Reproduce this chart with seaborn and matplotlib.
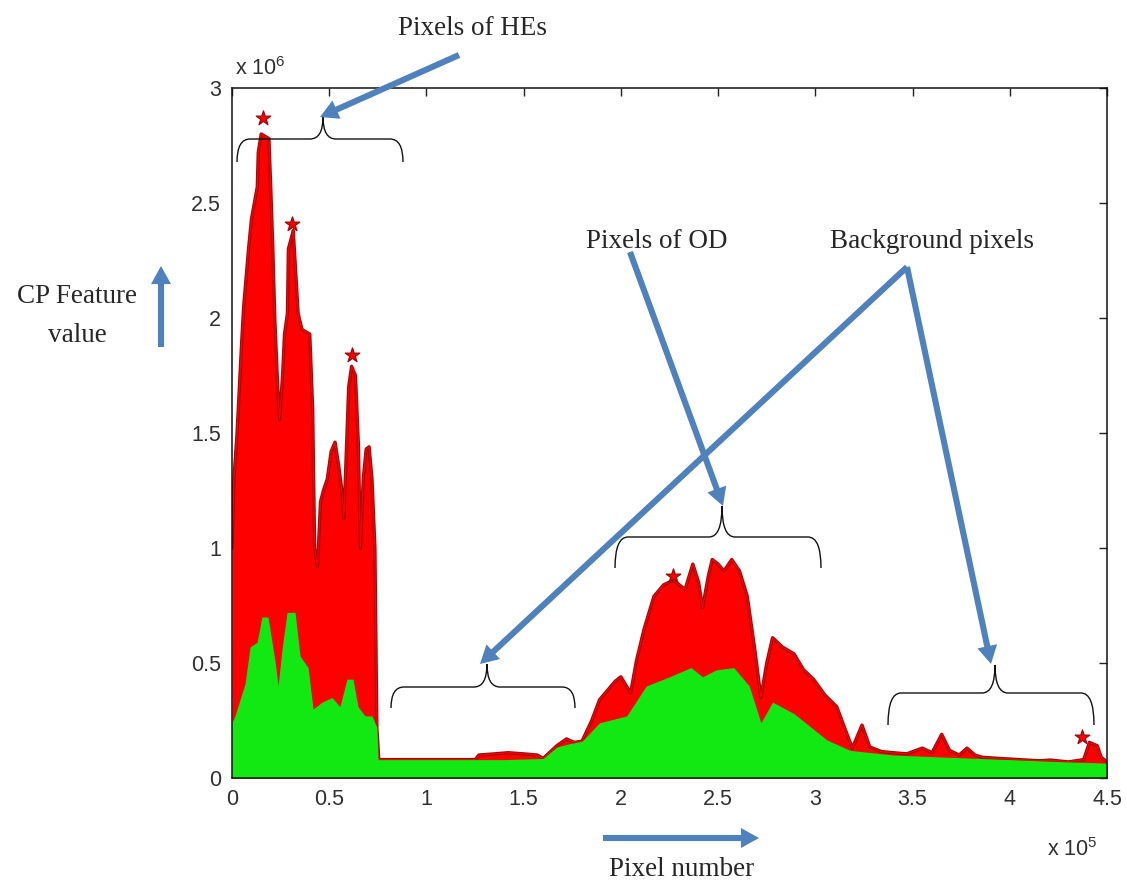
import numpy as np
import pandas as pd
import seaborn as sns
import matplotlib
matplotlib.use("Agg")
import matplotlib.pyplot as plt
from matplotlib.path import Path
from matplotlib.patches import PathPatch, FancyArrowPatch, ArrowStyle

# ---------------- data (x in units of 1e5 pixels, y in units of 1e6) ----------------
red_x = [0.0, 0.01, 0.026, 0.05, 0.06, 0.085, 0.10, 0.13, 0.135, 0.15, 0.19, 0.20, 0.21,
         0.22, 0.235, 0.245, 0.26, 0.27, 0.285, 0.29, 0.315, 0.34, 0.36, 0.40, 0.415,
         0.425, 0.44, 0.455, 0.47, 0.49, 0.51, 0.53, 0.55, 0.565, 0.575, 0.585, 0.60,
         0.615, 0.635, 0.65, 0.66, 0.675, 0.69, 0.705, 0.72, 0.735, 0.745, 0.755,
         1.0, 1.25, 1.27, 1.35, 1.42, 1.5, 1.57, 1.6, 1.67, 1.72, 1.76, 1.80, 1.85,
         1.89, 1.93, 1.97, 2.0, 2.05, 2.08, 2.12, 2.17, 2.22, 2.27, 2.33, 2.37, 2.40,
         2.42, 2.45, 2.47, 2.50, 2.53, 2.57, 2.61, 2.65, 2.69, 2.72, 2.75, 2.78, 2.83,
         2.89, 2.94, 2.99, 3.05, 3.11, 3.15, 3.19, 3.24, 3.28, 3.34, 3.40, 3.47, 3.55,
         3.60, 3.65, 3.69, 3.74, 3.78, 3.82, 3.86, 3.95, 4.05, 4.15, 4.21, 4.30, 4.38,
         4.41, 4.45, 4.47, 4.5]
red_y = [1.0, 1.3, 1.5, 1.9, 2.05, 2.3, 2.43, 2.57, 2.72, 2.80, 2.78, 2.55, 2.3,
         2.0, 1.7, 1.56, 1.75, 1.93, 2.02, 2.3, 2.38, 2.02, 1.95, 1.93, 1.6,
         1.0, 0.92, 1.2, 1.25, 1.3, 1.42, 1.46, 1.35, 1.25, 1.13, 1.35, 1.7,
         1.79, 1.75, 1.45, 1.0, 1.3, 1.43, 1.44, 1.3, 1.0, 0.22, 0.08,
         0.08, 0.08, 0.10, 0.105, 0.11, 0.105, 0.10, 0.085, 0.14, 0.17, 0.155, 0.16, 0.25,
         0.34, 0.38, 0.42, 0.44, 0.37, 0.51, 0.65, 0.79, 0.84, 0.86, 0.82, 0.93, 0.85,
         0.74, 0.88, 0.95, 0.93, 0.90, 0.95, 0.90, 0.79, 0.55, 0.35, 0.50, 0.61, 0.57,
         0.54, 0.47, 0.43, 0.36, 0.31, 0.22, 0.13, 0.23, 0.135, 0.115, 0.11, 0.105, 0.13,
         0.11, 0.19, 0.12, 0.10, 0.13, 0.10, 0.09, 0.085, 0.08, 0.075, 0.078, 0.07, 0.08,
         0.155, 0.14, 0.09, 0.07]

green_x = [0.0, 0.015, 0.067, 0.093, 0.129, 0.154, 0.185, 0.221, 0.237, 0.257, 0.283,
           0.324, 0.350, 0.391, 0.417, 0.463, 0.514, 0.555, 0.591, 0.622, 0.648, 0.684,
           0.720, 0.745, 0.751, 1.0, 1.2, 1.4, 1.6, 1.67, 1.74, 1.80, 1.89, 2.03, 2.13,
           2.25, 2.36, 2.42, 2.49, 2.58, 2.66, 2.72, 2.78, 2.89, 3.06, 3.18, 3.40, 3.69,
           4.0, 4.3, 4.5]
green_y = [0.24, 0.27, 0.41, 0.57, 0.59, 0.70, 0.70, 0.51, 0.40, 0.56, 0.72,
           0.72, 0.53, 0.48, 0.30, 0.33, 0.35, 0.31, 0.43, 0.43, 0.31, 0.27,
           0.27, 0.22, 0.08, 0.08, 0.08, 0.08, 0.085, 0.135, 0.15, 0.16, 0.24, 0.27, 0.40,
           0.44, 0.48, 0.44, 0.47, 0.48, 0.40, 0.24, 0.33, 0.28, 0.165, 0.12, 0.10, 0.09,
           0.08, 0.07, 0.065]

tip_x = [0.16, 0.31, 0.615, 2.27, 4.37]
tip_y = [2.87, 2.41, 1.84, 0.88, 0.18]

x_ticks = [0, 0.5, 1, 1.5, 2, 2.5, 3, 3.5, 4, 4.5]
x_labels = ["0", "0.5", "1", "1.5", "2", "2.5", "3", "3.5", "4", "4.5"]
y_ticks = [0, 0.5, 1, 1.5, 2, 2.5, 3]
y_labels = ["0", "0.5", "1", "1.5", "2", "2.5", "3"]

# ---------------- style ----------------
sns.set_style("white")
plt.rcParams["font.family"] = ["Liberation Sans", "DejaVu Sans"]
plt.rcParams["mathtext.fontset"] = "custom"
plt.rcParams["mathtext.rm"] = "Liberation Sans"

W, H = 1127, 880
fig = plt.figure(figsize=(W / 100, H / 100), dpi=100)
ax = fig.add_axes([232 / W, 1 - 778 / H, (1107 - 232) / W, (778 - 88) / H])

RED = "#FF0000"
DARKRED = "#9A0A0A"
GREEN = "#12E812"
BLUE = "#4F81BD"

red_df = pd.DataFrame({"x": red_x, "y": red_y})
green_df = pd.DataFrame({"x": green_x, "y": green_y})
tips_df = pd.DataFrame({"x": tip_x, "y": tip_y})

ax.fill_between(red_df["x"], 0, red_df["y"], color=RED, linewidth=0, zorder=1)
sns.lineplot(data=red_df, x="x", y="y", ax=ax, color=DARKRED, lw=2.4,
             sort=False, estimator=None, zorder=2, solid_joinstyle="round")
sns.lineplot(data=red_df, x="x", y="y", ax=ax, color=RED, lw=0.9,
             sort=False, estimator=None, zorder=2.5)
sns.scatterplot(data=tips_df, x="x", y="y", ax=ax, marker="*", s=120, color=RED,
                edgecolor=DARKRED, linewidth=0.9, zorder=3)
ax.fill_between(green_df["x"], 0, green_df["y"], color=GREEN, linewidth=0, zorder=4)

ax.set_xlim(0, 4.5)
ax.set_ylim(0, 3)
ax.set_xticks(x_ticks)
ax.set_xticklabels(x_labels)
ax.set_yticks(y_ticks)
ax.set_yticklabels(y_labels)
ax.set_xlabel("")
ax.set_ylabel("")
ax.tick_params(direction="in", top=True, right=True, length=6, width=1,
               labelsize=15.5, labelcolor="#303030", pad=8, color="#222222")
for s in ax.spines.values():
    s.set_visible(True)
    s.set_color("#111111")
    s.set_linewidth(1.1)
    s.set_zorder(10)

# multipliers
fig.text(235 / W, 1 - 75 / H, r"x 10$^{6}$", fontsize=15.5, color="#303030",
         ha="left", va="baseline")
fig.text(1047 / W, 1 - 856 / H, r"x 10$^{5}$", fontsize=15.5, color="#303030",
         ha="left", va="baseline")


def P(x, y):
    return (x / W, 1 - y / H)


# annotation texts
serif = ["Liberation Serif", "DejaVu Serif"]
fig.text(*P(472, 35), "Pixels of HEs", family=serif, fontsize=19.5, ha="center", va="baseline")
fig.text(*P(657, 248), "Pixels of OD", family=serif, fontsize=19.5, ha="center", va="baseline")
fig.text(*P(932, 248), "Background pixels", family=serif, fontsize=19.5, ha="center", va="baseline")
fig.text(*P(682, 876), "Pixel number", family=serif, fontsize=19.5, ha="center", va="baseline")
fig.text(*P(77, 303), "CP Feature", family=serif, fontsize=19.5, ha="center", va="baseline")
fig.text(*P(77, 342), "value", family=serif, fontsize=19.5, ha="center", va="baseline")

# arrows
style = ArrowStyle.Simple(head_length=0.65, head_width=0.72, tail_width=0.22)
arrows = [((459, 55), (320, 117)),
          ((161, 347), (161, 266)),
          ((603, 838), (759, 838)),
          ((630, 252), (723, 506)),
          ((907, 267), (480, 664)),
          ((907, 267), (991, 664))]
for tail, tip in arrows:
    a = FancyArrowPatch(P(*tail), P(*tip), transform=fig.transFigure,
                        arrowstyle=style, mutation_scale=20, color=BLUE,
                        linewidth=0, shrinkA=0, shrinkB=0, zorder=20)
    fig.add_artist(a)


# braces
def brace(x0, x1, xm, yend, yh, ytip, r=13):
    verts = [P(x0, yend), P(x0, yh), P(x0 + r, yh),
             P(xm - r, yh), P(xm, yh), P(xm, ytip),
             P(xm, yh), P(xm + r, yh),
             P(x1 - r, yh), P(x1, yh), P(x1, yend)]
    codes = [Path.MOVETO, Path.CURVE3, Path.CURVE3,
             Path.LINETO, Path.CURVE3, Path.CURVE3,
             Path.CURVE3, Path.CURVE3,
             Path.LINETO, Path.CURVE3, Path.CURVE3]
    p = PathPatch(Path(verts, codes), transform=fig.transFigure, fill=False,
                  edgecolor="#111111", linewidth=1.0, zorder=15)
    fig.add_artist(p)


brace(237, 403, 323, 162, 139, 117)
brace(391, 575, 487, 708, 687, 664)
brace(615, 821, 722, 568, 537, 506)
brace(888, 1094, 995, 725, 693, 665)

fig.savefig("out.png", dpi=100, facecolor="white")
